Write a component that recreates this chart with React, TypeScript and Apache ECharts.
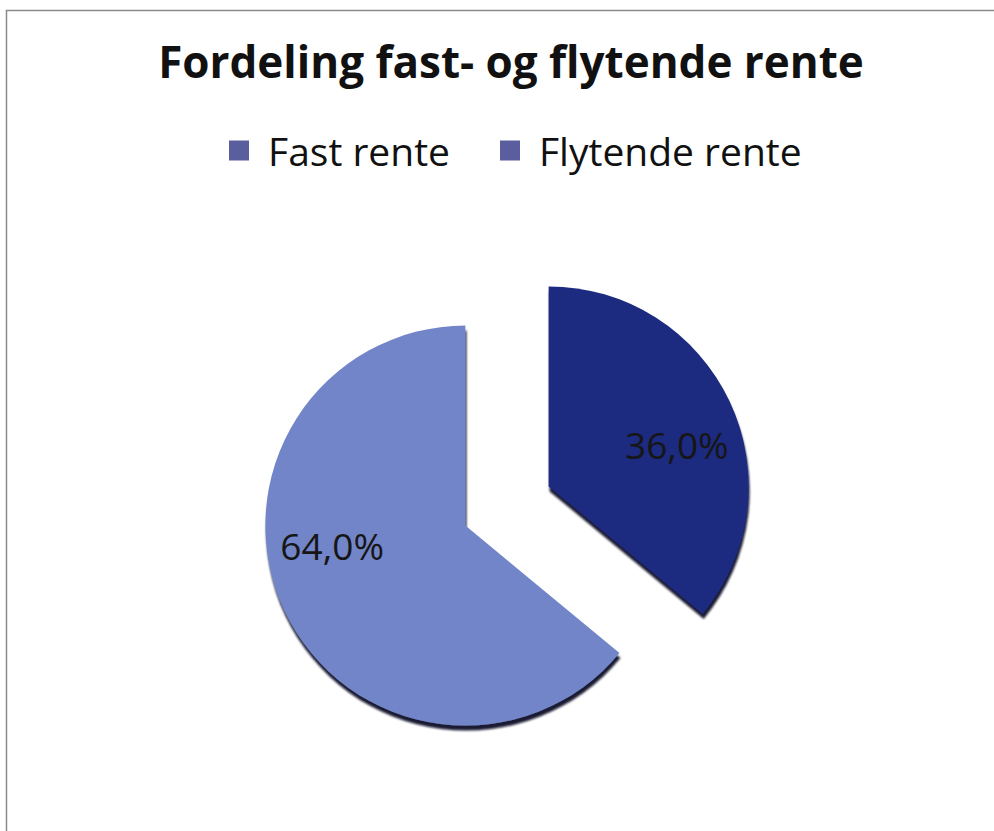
import React, { useEffect, useRef } from "react";
import * as echarts from "echarts";

const categories = ["Fast rente", "Flytende rente"];
const values = [36.0, 64.0];
const sliceColors = ["#1f2b80", "#7285c8"];
const legendColor = "#5a5d9e";
const titleText = "Fordeling fast- og flytende rente";

export default function App() {
  const ref = useRef<HTMLDivElement>(null);
  useEffect(() => {
    if (!ref.current) return;
    const chart = echarts.init(ref.current, null, { renderer: "svg" });
    const labelShift = [
      [35, 2],
      [-40, -24],
    ];
    chart.setOption({
      animation: false,
      backgroundColor: "#ffffff",
      title: {
        text: titleText,
        left: 506,
        top: 34,
        textAlign: "center",
        textStyle: {
          fontFamily: "Open Sans",
          fontWeight: "bold",
          fontSize: 44,
          color: "#111111",
        },
      },
      legend: {
        data: categories.map((c) => ({ name: c, itemStyle: { color: legendColor } })),
        left: 229,
        top: 131,
        padding: 0,
        itemWidth: 20,
        itemHeight: 20,
        itemGap: 50,
        icon: "rect",
        selectedMode: false,
        textStyle: {
          fontFamily: "Open Sans",
          fontSize: 39,
          color: "#111111",
          padding: [0, 0, 0, 14],
        },
      },
      graphic: [
        {
          type: "rect",
          shape: { x: 6.5, y: 10.5, width: 1200, height: 1000 },
          style: { fill: "none", stroke: "#8a8a8a", lineWidth: 1.5 },
          silent: true,
        },
      ],
      series: [
        {
          type: "pie",
          center: [507, 506],
          radius: 200,
          startAngle: 90,
          clockwise: true,
          selectedMode: "multiple",
          selectedOffset: 46,
          emphasis: { disabled: true },
          data: categories.map((name, i) => ({
            name,
            value: values[i],
            selected: true,
            itemStyle: {
              color: sliceColors[i],
              shadowColor: "rgba(10,12,40,0.95)",
              shadowOffsetY: 5,
              shadowOffsetX: 1,
              shadowBlur: 2,
            },
          })),
          label: {
            show: true,
            position: "inside",
            fontFamily: "Open Sans",
            fontSize: 37,
            color: "#161616",
            formatter: (p: any) => p.value.toFixed(1).replace(".", ",") + "%",
          },
          labelLine: { show: false },
          labelLayout: (p: any) => ({ dx: labelShift[p.dataIndex][0], dy: labelShift[p.dataIndex][1] }),
        },
      ],
    });
    return () => chart.dispose();
  }, []);
  return (
    <div
      ref={ref}
      style={{ position: "fixed", left: 0, top: 0, width: 994, height: 831 }}
    />
  );
}
